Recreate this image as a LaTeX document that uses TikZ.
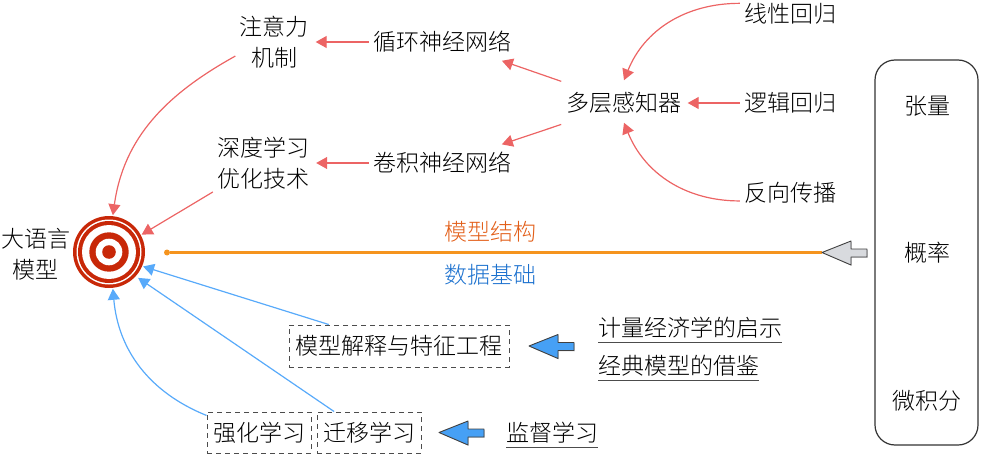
\documentclass[tikz,border=0pt]{standalone}
\usepackage{fontspec}
\setmainfont{Noto Sans CJK SC Light}
\usetikzlibrary{arrows.meta,shadows}
\definecolor{R}{RGB}{236,100,100}
\definecolor{B}{RGB}{88,170,250}
\definecolor{O}{RGB}{245,148,30}
\definecolor{T}{RGB}{200,40,8}
\definecolor{G}{RGB}{216,218,222}
\definecolor{F}{RGB}{70,160,245}
\tikzset{
  txt/.style={inner sep=4pt,align=center,font=\fontsize{23}{31}\selectfont,text=black},
  redline/.style={draw=R,line width=1.2pt,-{Triangle[length=11pt,width=12pt,fill=R]}},
  blueline/.style={draw=B,line width=1.2pt,-{Triangle[length=11pt,width=12pt,fill=B]}},
  dashbox/.style={txt,draw=black!70,line width=.95pt,dash pattern=on 5pt off 4pt,inner sep=0pt},
  underlined/.style={txt,inner xsep=0pt,inner ysep=0pt,minimum height=28pt},
  blockarrow/.style={draw=black!75,line width=.9pt,line join=round,drop shadow={shadow xshift=.8pt,shadow yshift=-.8pt,opacity=.35}}
}
\newcommand{\drawblock}[3]{\draw[blockarrow,fill=#1] (#2)--++(29,-11.5)--++(0,8)--++(16,0)--++(0,#3)--++(-16,0)--++(0,8)--cycle;}
\begin{document}
\begin{tikzpicture}[x=1pt,y=-1pt]
\useasboundingbox (0,0) rectangle (982,457);
\node[circle,fill=T,minimum size=72pt,inner sep=0pt,outer sep=1pt] (target) at (109,252) {};
\foreach \r/\c in {32.5/white,31/T,27/white,19.7/T,13.3/white,6.8/T}{
  \fill[\c] (target.center) circle (\r);
}
\node[txt] (llm) at (36,254) {大语言\\模型};
\node[txt] (attn) at (274,42) {注意力\\机制};
\node[txt] (deep) at (263,163) {深度学习\\优化技术};
\node[txt] (rnn) at (442,42) {循环神经网络};
\node[txt] (cnn) at (442,163) {卷积神经网络};
\node[txt] (mlp) at (624,103) {多层感知器};
\node[txt] (linreg) at (790,14) {线性回归};
\node[txt] (logreg) at (790,103) {逻辑回归};
\node[txt] (backprop) at (790,193) {反向传播};
\draw[redline] (linreg.168) to[out=180,in=68] ([yshift=8]mlp.north);
\draw[redline,shorten >=2pt] (logreg) -- (mlp);
\draw[redline] (backprop.189) to[out=180,in=-68] ([yshift=-5]mlp.south);
\draw[redline,shorten <=21pt,shorten >=12pt] (mlp.161) -- (rnn.-17);
\draw[redline,shorten <=21pt,shorten >=12pt] (mlp.199) -- (cnn.17);
\draw[redline,shorten >=3pt] (rnn) -- (attn);
\draw[redline,shorten >=3pt] (cnn) -- (deep);
\draw[redline] (attn.200) to[out=209,in=82] (target.84);
\draw[redline] (deep.210) -- (target.28);
\node[dashbox,minimum width=220pt,minimum height=42pt] (interp) at (399,346) {模型解释与特征工程};
\node[dashbox,minimum width=104pt,minimum height=41pt] (rl) at (259,432.5) {强化学习};
\node[dashbox,minimum width=104pt,minimum height=41pt] (transfer) at (369,432.5) {迁移学习};
\draw[blueline] (interp.163) -- (target.-23);
\draw[blueline,shorten >=2pt] (transfer.149) -- (target.-42);
\draw[blueline] (rl.162) to[out=158,in=-85] (target.-84);
\node[underlined,anchor=west] (econ) at (598,328) {计量经济学的启示};
\node[underlined,anchor=west] (classic) at (598,366) {经典模型的借鉴};
\node[underlined,anchor=west] (superv) at (506,433) {监督学习};
\foreach \u in {econ,classic,superv}{
  \draw[black!70,line width=1.1pt] (\u.south west)--(\u.south east);
}
\coordinate (interptip) at (529,346);
\coordinate (supervtip) at (439,432.5);
\coordinate (structtip) at (822,252.5);
\node[circle,fill=O,minimum size=6pt,inner sep=0pt] (linestart) at (167,252.5) {};
\draw[O,line width=2.2pt] (linestart) -- (structtip);
\drawblock{G}{structtip}{8}
\drawblock{F}{interptip}{8}
\drawblock{F}{supervtip}{8}
\node[txt,text={rgb,255:red,226;green,94;blue,24}] (struct) at (490,232) {模型结构};
\node[txt,text={rgb,255:red,26;green,112;blue,206}] (data) at (490,275) {数据基础};
\node[draw=black!80,line width=1.2pt,rounded corners=20pt,minimum width=103pt,minimum height=385pt] (mathbox) at (926.5,252.5) {};
\node[txt] (tensor) at (927,106) {张量};
\node[txt] (prob) at (927,253) {概率};
\node[txt] (calc) at (927,401) {微积分};
\end{tikzpicture}
\end{document}
